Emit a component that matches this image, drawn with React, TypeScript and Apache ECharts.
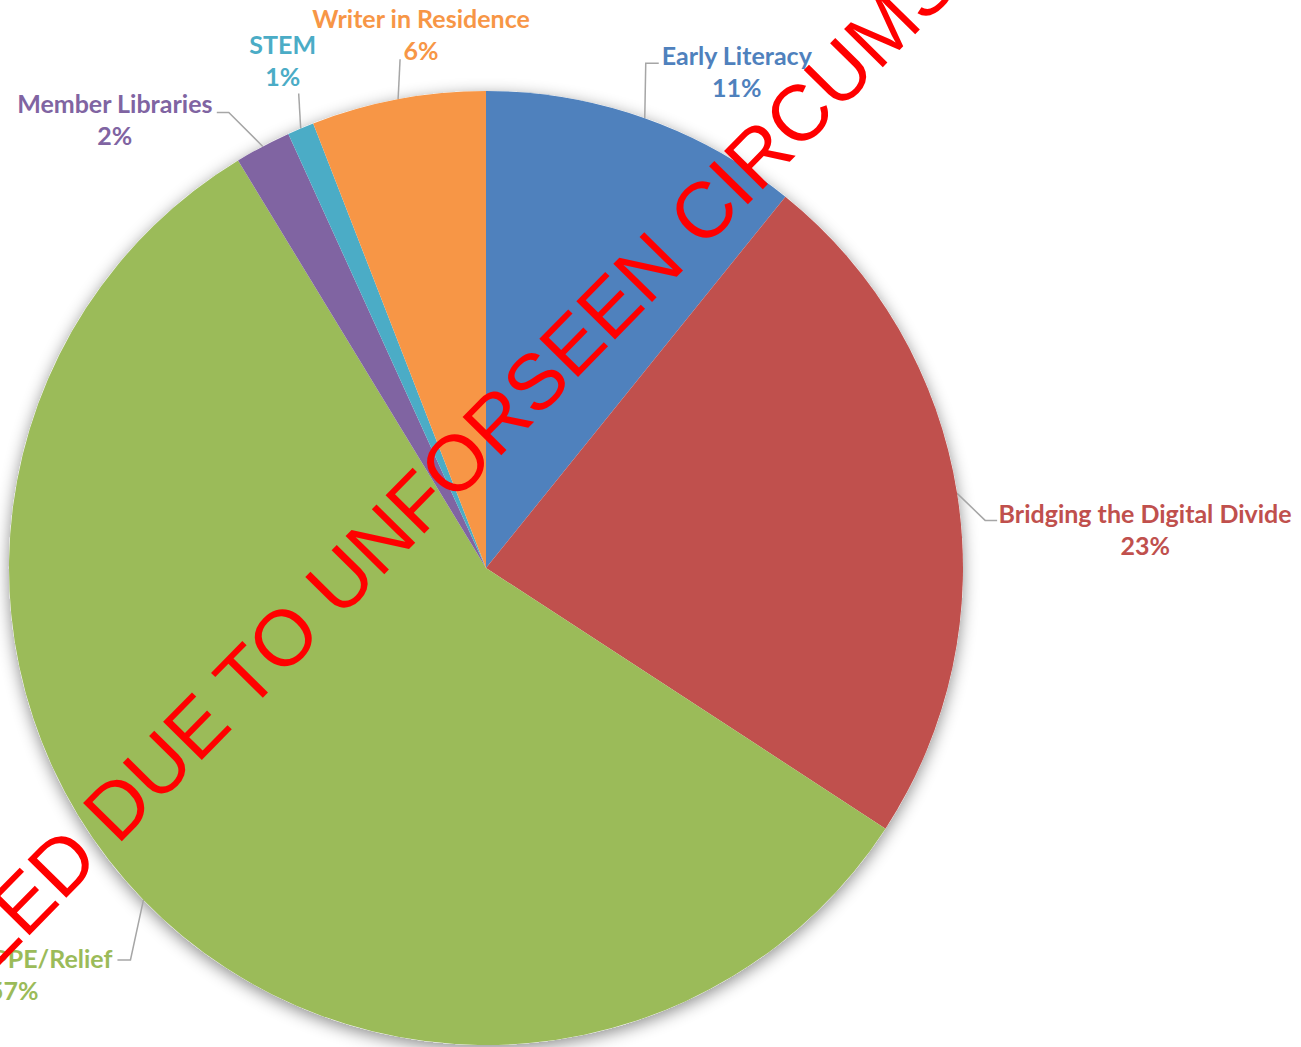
import React, { useEffect, useRef } from "react";
import * as echarts from "echarts";

// ---- data ----
const categories = [
  "Early Literacy",
  "Bridging the Digital Divide",
  "PPE/Relief",
  "Member Libraries",
  "STEM",
  "Writer in Residence",
];
const shares = [10.8, 23.4, 57.1, 1.9, 0.9, 5.9];
const colors = ["#4F81BD", "#C0504D", "#9BBB59", "#8064A2", "#4BACC6", "#F79646"];
const watermarkText = "CANCELLED DUE TO UNFORSEEN CIRCUMSTANCES";

// ---- label layout (offsets from the slice-edge anchor computed by ECharts) ----
type Leader = { bend: number[]; end: number[]; label: number[]; align: string; pctPad?: number };
const leaders: Leader[] = [
  { bend: [1, -55], end: [14, -55], label: [92, -47], align: "center" },
  { bend: [28, 27], end: [40, 27], label: [188, 36], align: "center" },
  { bend: [-13, 60], end: [-26, 60], label: [-31, 74], align: "right", pctPad: 74 },
  { bend: [-34, -34], end: [-46, -34], label: [-148, -27], align: "center" },
  { bend: [-2, -35], end: [-2, -35], label: [-18, -68], align: "center" },
  { bend: [2, -40], end: [2, -40], label: [23, -65], align: "center" },
];

const FONT = "Lato, 'Open Sans', sans-serif";
const FS = 25;

export default function App() {
  const ref = useRef<HTMLDivElement>(null);

  useEffect(() => {
    if (!ref.current) return;
    const chart = echarts.init(ref.current, undefined, { renderer: "svg" });

    const data = categories.map((name, i) => {
      const L = leaders[i];
      return {
        name,
        value: shares[i],
        itemStyle: { color: colors[i] },
        label: {
          color: colors[i],
          rich: {
            n: { color: colors[i], fontFamily: FONT, fontWeight: "bold", fontSize: FS, lineHeight: 32 },
            p: {
              color: colors[i],
              fontFamily: FONT,
              fontWeight: "bold",
              fontSize: FS,
              lineHeight: 32,
              padding: [0, L.pctPad || 0, 0, 0],
            },
          },
        },
      };
    });

    chart.setOption({
      animation: false,
      backgroundColor: "#ffffff",
      series: [
        {
          type: "pie",
          silent: true,
          z: 1,
          center: [486, 568],
          radius: 477,
          label: { show: false },
          labelLine: { show: false },
          itemStyle: {
            color: "#ffffff",
            shadowBlur: 16,
            shadowColor: "rgba(0,0,0,0.45)",
            shadowOffsetY: 4,
          },
          data: [{ value: 1, name: "" }],
        },
        {
          type: "pie",
          z: 2,
          center: [486, 568],
          radius: 477,
          startAngle: 90,
          clockwise: true,
          avoidLabelOverlap: false,
          emphasis: { disabled: true },
          itemStyle: { borderWidth: 0 },
          label: {
            show: true,
            position: "outside",
            fontFamily: FONT,
            fontWeight: "bold",
            fontSize: FS,
            formatter: (p: any) => `{n|${p.name}}\n{p|${Math.round(p.percent)}%}`,
          },
          labelLine: {
            show: true,
            length: 20,
            length2: 10,
            lineStyle: { color: "#A6A6A6", width: 1.5 },
          },
          labelLayout: (params: any) => {
            const L = leaders[params.dataIndex];
            const pts = params.labelLinePoints;
            if (!L || !pts) return {};
            const a = pts[0];
            return {
              x: a[0] + L.label[0],
              y: a[1] + L.label[1],
              align: L.align,
              verticalAlign: "middle",
              labelLinePoints: [
                [a[0], a[1]],
                [a[0] + L.bend[0], a[1] + L.bend[1]],
                [a[0] + L.end[0], a[1] + L.end[1]],
              ],
            };
          },
          data,
        },
      ],
      graphic: [
        {
          type: "text",
          z: 100,
          x: 456,
          y: 462,
          rotation: (45.5 * Math.PI) / 180,
          style: {
            text: watermarkText,
            fill: "#FF0000",
            font: "79px 'Liberation Sans', Arial, sans-serif",
            align: "center",
            verticalAlign: "middle",
          },
        },
      ],
    });

    return () => chart.dispose();
  }, []);

  return (
    <div
      ref={ref}
      style={{ position: "absolute", left: 0, top: 0, width: 1301, height: 1047 }}
    />
  );
}
